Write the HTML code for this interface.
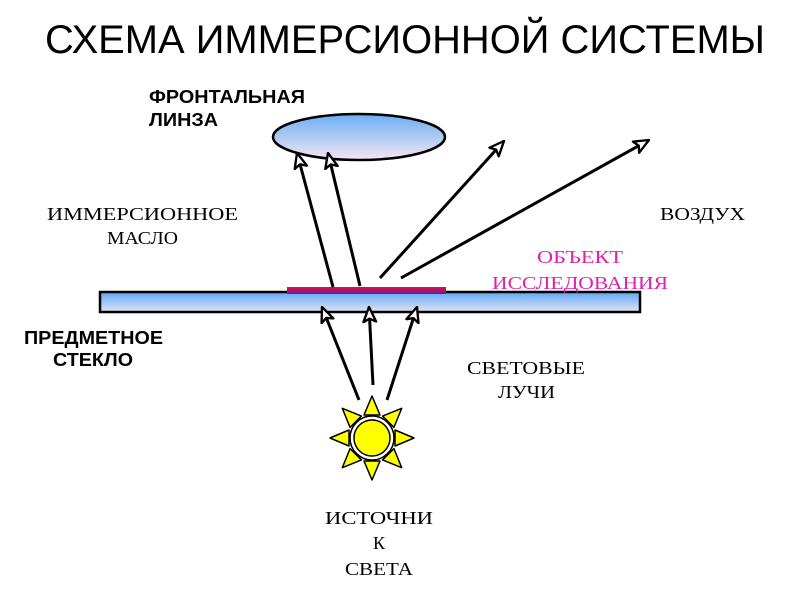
<!DOCTYPE html>
<html><head><meta charset="utf-8"><style>
html,body{margin:0;padding:0;background:#fff;width:800px;height:600px;overflow:hidden}
svg{display:block}
.s{font-family:"Liberation Sans",sans-serif;font-weight:bold;font-size:18px;fill:#000}
.r{font-family:"Liberation Serif",serif;font-size:18px;fill:#000}
.m{font-family:"Liberation Serif",serif;font-size:18px;fill:#e020b0}
</style></head><body>
<svg width="800" height="600" viewBox="0 0 800 600" xmlns="http://www.w3.org/2000/svg">
<defs>
<linearGradient id="lg" x1="0" y1="0" x2="0" y2="1">
<stop offset="0" stop-color="#6aaef5"/><stop offset="1" stop-color="#f6e6f2"/></linearGradient>
<linearGradient id="sg" x1="0" y1="0" x2="0" y2="1">
<stop offset="0" stop-color="#5fa8f5"/><stop offset="1" stop-color="#e4e4f4"/></linearGradient>
<linearGradient id="og" x1="0" y1="0" x2="0" y2="1">
<stop offset="0" stop-color="#e0103a"/><stop offset="1" stop-color="#6a1a9a"/></linearGradient>
<marker id="a" viewBox="0 0 16 16" refX="15" refY="8" markerWidth="17" markerHeight="17" markerUnits="userSpaceOnUse" orient="auto">
<path d="M1,2 L15,8 L1,14 L4,8 Z" fill="#fff" stroke="#000" stroke-width="2.2" stroke-linejoin="round"/></marker>
</defs>
<text x="405" y="53" text-anchor="middle" textLength="720" lengthAdjust="spacingAndGlyphs" style="font-family:'Liberation Sans',sans-serif;font-size:40px">СХЕМА ИММЕРСИОННОЙ СИСТЕМЫ</text>

<ellipse cx="359" cy="137" rx="86" ry="23" fill="url(#lg)" stroke="#000" stroke-width="2.5"/>
<rect x="100" y="292" width="540" height="20" fill="url(#sg)" stroke="#000" stroke-width="2.5"/>
<rect x="287" y="287" width="159" height="7" fill="url(#og)"/>

<g stroke="#000" stroke-width="3" fill="none" marker-end="url(#a)">
<line x1="333" y1="287" x2="297" y2="153"/>
<line x1="360" y1="286" x2="328" y2="153"/>
<line x1="380" y1="278" x2="504" y2="141"/>
<line x1="401" y1="278" x2="649" y2="140"/>
<line x1="359" y1="400" x2="322" y2="307"/>
<line x1="373" y1="385" x2="369" y2="307"/>
<line x1="387" y1="400" x2="417" y2="307"/>
</g>

<g transform="translate(372,438)" fill="#ffff00" stroke="#000" stroke-width="1.5" stroke-linejoin="round">
<g id="ray"><path d="M-8,-23 L0,-42 L8,-23 Z"/></g>
<use href="#ray" transform="rotate(45)"/><use href="#ray" transform="rotate(90)"/>
<use href="#ray" transform="rotate(135)"/><use href="#ray" transform="rotate(180)"/>
<use href="#ray" transform="rotate(225)"/><use href="#ray" transform="rotate(270)"/>
<use href="#ray" transform="rotate(315)"/>
<circle r="22" fill="#fff" stroke="#000" stroke-width="1.5"/>
<circle r="18" stroke-width="1.5"/>
</g>

<text class="s" x="149" y="103" textLength="156" lengthAdjust="spacingAndGlyphs">ФРОНТАЛЬНАЯ</text>
<text class="s" x="149" y="126" textLength="69" lengthAdjust="spacingAndGlyphs">ЛИНЗА</text>
<text class="r" x="47" y="220" textLength="191" lengthAdjust="spacingAndGlyphs">ИММЕРСИОННОЕ</text>
<text class="r" x="107" y="244" textLength="71" lengthAdjust="spacingAndGlyphs">МАСЛО</text>
<text class="r" x="660" y="220" textLength="85" lengthAdjust="spacingAndGlyphs">ВОЗДУХ</text>
<text class="m" x="537" y="263" textLength="86" lengthAdjust="spacingAndGlyphs">ОБЪЕКТ</text>
<text class="m" x="492" y="289" textLength="176" lengthAdjust="spacingAndGlyphs">ИССЛЕДОВАНИЯ</text>
<text class="s" x="24" y="344" textLength="139" lengthAdjust="spacingAndGlyphs">ПРЕДМЕТНОЕ</text>
<text class="s" x="53" y="366" textLength="80" lengthAdjust="spacingAndGlyphs">СТЕКЛО</text>
<text class="r" x="467" y="374" textLength="118" lengthAdjust="spacingAndGlyphs">СВЕТОВЫЕ</text>
<text class="r" x="498" y="398" textLength="57" lengthAdjust="spacingAndGlyphs">ЛУЧИ</text>
<text class="r" x="325" y="524" textLength="108" lengthAdjust="spacingAndGlyphs">ИСТОЧНИ</text>
<text class="r" x="379" y="549" text-anchor="middle">К</text>
<text class="r" x="345" y="575" textLength="68" lengthAdjust="spacingAndGlyphs">СВЕТА</text>
</svg>
</body></html>
